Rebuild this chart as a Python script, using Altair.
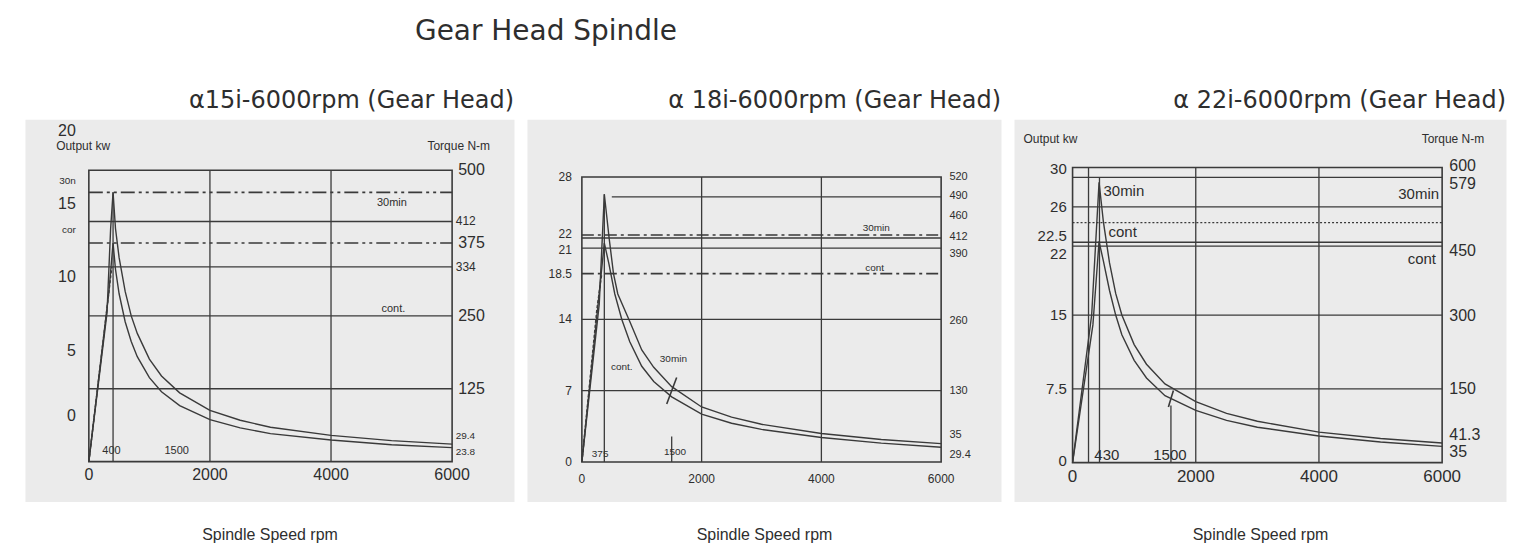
import altair as alt
import pandas as pd

# ---------------- fonts / colours ----------------
LABEL_FONT = "Liberation Sans, Arial, sans-serif"
TITLE_FONT = "DejaVu Sans, Verdana, sans-serif"
AXIS_FONT = "Liberation Sans Narrow, Arial Narrow, Liberation Sans, sans-serif"
INK = "#2e2e2e"
LINE = "#3a3a3a"
PANEL_BG = "#ebebeb"

# ---------------- shared text ----------------
MAIN_TITLE = "Gear Head Spindle"
X_LABEL = "Spindle Speed rpm"
X_TICKS = [0, 2000, 4000, 6000]
X_TICK_TEXT = ["0", "2000", "4000", "6000"]
GRID_RPM = [2000, 4000]

# ---------------- panel 1 : alpha 15i (drawn on the torque scale, N-m) ----------------
P1_TITLE = "α15i-6000rpm (Gear Head)"
P1_TOP = 500
P1_SOLID_H = [412, 334, 250, 125]
P1_DASHDOT_H = [462, 375]
P1_BASE_RPM = [400]
P1_BASE_TOP = [462]
P1_30MIN_RPM = [0, 300, 360, 400, 440, 500, 600, 700, 800, 1000, 1200, 1500, 2000, 2500, 3000, 4000, 5000, 6000]
P1_30MIN_VAL = [0, 255, 400, 462, 400, 350, 292, 250, 220, 176, 147, 118, 88, 71, 59, 45, 36, 30]
P1_CONT_RPM = [0, 330, 400, 440, 500, 600, 700, 800, 1000, 1200, 1500, 2000, 2500, 3000, 4000, 5000, 6000]
P1_CONT_VAL = [0, 290, 375, 330, 288, 240, 206, 180, 144, 120, 96, 72, 58, 48, 37, 29, 24]
P1_RISE_RPM = [0, 380]
P1_RISE_VAL = [0, 334]
P1_LEFT_TEXT = ["20", "15", "10", "5", "0"]
P1_LEFT_POS = [567, 442, 316, 189, 79]
P1_LEFT_SMALL_TEXT = ["30n", "cor"]
P1_LEFT_SMALL_POS = [481, 398]
P1_RIGHT_TEXT = ["500", "375", "250", "125"]
P1_RIGHT_POS = [500, 375, 250, 125]
P1_RIGHT_SMALL_TEXT = ["412", "334"]
P1_RIGHT_SMALL_POS = [412, 334]
P1_RIGHT_TINY_TEXT = ["29.4", "23.8"]
P1_RIGHT_TINY_POS = [43.7, 16.6]
P1_NOTE_TEXT = ["30min", "cont.", "400", "1500"]
P1_NOTE_RPM = [5005, 5030, 374, 1450]
P1_NOTE_VAL = [443, 262, 17.6, 17.6]
P1_HEAD_VAL = 541

# ---------------- panel 2 : alpha 18i (drawn on the output scale, kW) ----------------
P2_TITLE = "α 18i-6000rpm (Gear Head)"
P2_TOP = 28
P2_SOLID_H = [22, 21, 14, 7]
P2_SOLID_H_LATE = [26.05]
P2_SOLID_H_LATE_START = [500]
P2_DASHED_H = [22.3, 18.5]
P2_BASE_RPM = [375, 1500]
P2_BASE_TOP = [26.3, 2.5]
P2_30MIN_RPM = [0, 290, 375, 455, 528, 600, 800, 1000, 1200, 1500, 2000, 2500, 3000, 4000, 5000, 6000]
P2_30MIN_VAL = [0, 15.5, 26.3, 22, 18.5, 16.5, 13.8, 11, 9.3, 7.4, 5.4, 4.4, 3.7, 2.8, 2.2, 1.8]
P2_CONT_RPM = [0, 375, 450, 550, 667, 800, 1000, 1200, 1500, 2000, 2500, 3000, 4000, 5000, 6000]
P2_CONT_VAL = [0, 21.5, 19.5, 16.5, 14, 11.8, 9.4, 7.9, 6.4, 4.7, 3.8, 3.2, 2.4, 1.85, 1.45]
P2_RISE_RPM = [0, 250, 333]
P2_RISE_VAL = [0, 15, 18.5]
P2_MARK = [(1417, 5.7, 1583, 8.3)]
P2_LEFT_TEXT = ["28", "22", "21", "18.5", "14", "7", "0"]
P2_LEFT_POS = [28, 22.4, 20.8, 18.5, 14, 7, 0]
P2_RIGHT_TEXT = ["520", "490", "460", "412", "390", "260", "130", "35", "29.4"]
P2_RIGHT_POS = [28, 26.1, 24.2, 22.06, 20.4, 13.8, 7.0, 2.6, 0.65]
P2_NOTE_TEXT = ["30min", "cont", "cont.", "30min", "375", "1500"]
P2_NOTE_RPM = [4917, 4889, 667, 1528, 305, 1555]
P2_NOTE_VAL = [23.0, 19.1, 9.3, 10.1, 0.8, 1.0]

# ---------------- panel 3 : alpha 22i (drawn on the output scale, kW) ----------------
P3_TITLE = "α 22i-6000rpm (Gear Head)"
P3_TOP = 30
P3_SOLID_H = [29, 26, 22.4, 22, 15, 7.5]
P3_DOTTED_H = [24.4]
P3_BASE_RPM = [259, 437, 1597]
P3_BASE_TOP = [30, 29, 5.8]
P3_30MIN_RPM = [0, 310, 430, 500, 600, 700, 800, 1000, 1200, 1500, 2000, 2500, 3000, 4000, 5000, 6000]
P3_30MIN_VAL = [0, 15, 28.5, 24.5, 20.3, 17.2, 15, 12, 10, 8.0, 6.2, 5.0, 4.2, 3.1, 2.45, 2.0]
P3_CONT_RPM = [0, 330, 430, 500, 600, 700, 800, 1000, 1200, 1500, 2000, 2500, 3000, 4000, 5000, 6000]
P3_CONT_VAL = [0, 14, 22.5, 20.5, 17.5, 15, 13, 10.4, 8.6, 6.8, 5.3, 4.3, 3.6, 2.7, 2.1, 1.65]
P3_MARK = [(1556, 5.65, 1637, 7.33)]
P3_LEFT_TEXT = ["30", "26", "22.5", "22", "15", "7.5", "0"]
P3_LEFT_POS = [29.8, 26, 23.0, 21.2, 15, 7.5, 0.2]
P3_RIGHT_TEXT = ["600", "579", "450", "300", "150", "41.3", "35"]
P3_RIGHT_POS = [30.2, 28.3, 21.5, 14.9, 7.5, 2.8, 1.1]
P3_NOTE_L_TEXT = ["30min", "cont"]
P3_NOTE_L_RPM = [502, 584]
P3_NOTE_L_VAL = [27.6, 23.4]
P3_NOTE_R_TEXT = ["30min", "cont"]
P3_NOTE_R_RPM = [5950, 5900]
P3_NOTE_R_VAL = [27.3, 20.7]
P3_NOTE_C_TEXT = ["430", "1500"]
P3_NOTE_C_RPM = [556, 1581]
P3_NOTE_C_VAL = [0.74, 0.74]
P3_HEAD_VAL = 32.9

X_AXIS = alt.Axis(title=X_LABEL, labels=False, ticks=False, domain=False, grid=False,
                  titleFont=AXIS_FONT, titleFontSize=16, titleFontWeight="normal",
                  titleColor=INK, titlePadding=25)


class P:
    def __init__(self, xdom, ydom):
        self.xs = alt.Scale(domain=xdom, nice=False, zero=False)
        self.ys = alt.Scale(domain=ydom, nice=False, zero=False)

    def x(self, f):
        return alt.X(f, type="quantitative", scale=self.xs, axis=X_AXIS)

    def y(self, f):
        return alt.Y(f, type="quantitative", scale=self.ys, axis=None)

    def frame(self, top):
        df = pd.DataFrame({"x0": [0], "x1": [6000], "y0": [0], "y1": [top]})
        return alt.Chart(df).mark_rect(fillOpacity=0, stroke=LINE, strokeWidth=1.6).encode(
            x=self.x("x0"), x2=alt.X2("x1"), y=self.y("y0"), y2=alt.Y2("y1"))

    def hrules(self, vals, x0=0, x1=6000, dash=None, width=1.3):
        n = len(vals)
        df = pd.DataFrame({"y": vals,
                           "x0": x0 if isinstance(x0, list) else [x0] * n,
                           "x1": [x1] * n})
        kw = dict(color=LINE, strokeWidth=width)
        if dash:
            kw["strokeDash"] = dash
        return alt.Chart(df).mark_rule(**kw).encode(x=self.x("x0"), x2=alt.X2("x1"), y=self.y("y"))

    def vrules(self, xs, y1, y0=0, width=1.3):
        n = len(xs)
        df = pd.DataFrame({"x": xs, "y0": [y0] * n, "y1": y1})
        return alt.Chart(df).mark_rule(color=LINE, strokeWidth=width).encode(
            x=self.x("x"), y=self.y("y0"), y2=alt.Y2("y1"))

    def segs(self, segs, width=1.3):
        df = pd.DataFrame(segs, columns=["x0", "y0", "x1", "y1"])
        return alt.Chart(df).mark_rule(color=LINE, strokeWidth=width).encode(
            x=self.x("x0"), x2=alt.X2("x1"), y=self.y("y0"), y2=alt.Y2("y1"))

    def curve(self, rpm, val, dash=None, width=1.4):
        df = pd.DataFrame({"x": rpm, "y": val, "i": list(range(len(rpm)))})
        kw = dict(color=LINE, strokeWidth=width)
        if dash:
            kw["strokeDash"] = dash
        return alt.Chart(df).mark_line(**kw).encode(x=self.x("x"), y=self.y("y"), order="i:Q")

    def text(self, texts, xs, ys, align="center", size=12, weight="normal", font=LABEL_FONT):
        n = len(texts)
        df = pd.DataFrame({"t": texts,
                           "x": xs if isinstance(xs, list) else [xs] * n,
                           "y": ys if isinstance(ys, list) else [ys] * n})
        return alt.Chart(df).mark_text(align=align, baseline="middle", fontSize=size, font=font,
                                       color=INK, fontWeight=weight).encode(
            x=self.x("x"), y=self.y("y"), text="t:N")


def header(text):
    return alt.TitleParams(text, anchor="end", fontSize=24, font=TITLE_FONT, color=INK,
                           fontWeight="normal", offset=6)


# ---------- panel 1 ----------
p = P([-1055, 7022], [-68.5, 587.3])
panel1 = alt.layer(
    p.vrules(GRID_RPM, [P1_TOP] * len(GRID_RPM)),
    p.vrules(P1_BASE_RPM, P1_BASE_TOP),
    p.hrules(P1_SOLID_H),
    p.hrules(P1_DASHDOT_H, dash=[14, 4, 3, 4, 3, 4], width=1.6),
    p.frame(P1_TOP),
    p.curve(P1_30MIN_RPM, P1_30MIN_VAL),
    p.curve(P1_CONT_RPM, P1_CONT_VAL),
    p.curve(P1_RISE_RPM, P1_RISE_VAL, dash=[3, 2]),
    p.text(P1_LEFT_TEXT, -215, P1_LEFT_POS, align="right", size=16),
    p.text(P1_LEFT_SMALL_TEXT, -215, P1_LEFT_SMALL_POS, align="right", size=10),
    p.text(["Output kw"], -540, P1_HEAD_VAL, align="left", size=12),
    p.text(["Torque N-m"], 6626, P1_HEAD_VAL, align="right", size=12),
    p.text(P1_RIGHT_TEXT, 6100, P1_RIGHT_POS, align="left", size=16),
    p.text(P1_RIGHT_SMALL_TEXT, 6060, P1_RIGHT_SMALL_POS, align="left", size=12),
    p.text(P1_RIGHT_TINY_TEXT, 6060, P1_RIGHT_TINY_POS, align="left", size=10),
    p.text(X_TICK_TEXT, X_TICKS, -23.4, size=16),
    p.text(P1_NOTE_TEXT, P1_NOTE_RPM, P1_NOTE_VAL, size=11),
).properties(width=490, height=383, title=header(P1_TITLE))

# ---------- panel 2 ----------
p = P([-917, 7000], [-3.89, 33.66])
panel2 = alt.layer(
    p.vrules(GRID_RPM, [P2_TOP] * len(GRID_RPM)),
    p.vrules(P2_BASE_RPM, P2_BASE_TOP),
    p.hrules(P2_SOLID_H),
    p.hrules(P2_SOLID_H_LATE, x0=P2_SOLID_H_LATE_START),
    p.hrules(P2_DASHED_H, dash=[12, 4, 3, 4], width=1.6),
    p.frame(P2_TOP),
    p.curve(P2_30MIN_RPM, P2_30MIN_VAL),
    p.curve(P2_CONT_RPM, P2_CONT_VAL),
    p.curve(P2_RISE_RPM, P2_RISE_VAL, dash=[3, 2]),
    p.segs(P2_MARK, width=1.6),
    p.text(P2_LEFT_TEXT, -167, P2_LEFT_POS, align="right", size=12),
    p.text(P2_RIGHT_TEXT, 6138, P2_RIGHT_POS, align="left", size=11),
    p.text(X_TICK_TEXT, X_TICKS, -1.64, size=12),
    p.text(P2_NOTE_TEXT, P2_NOTE_RPM, P2_NOTE_VAL, size=10),
).properties(width=475, height=383, title=header(P2_TITLE))

# ---------- panel 3 ----------
p = P([-951, 7037], [-3.96, 34.9])
panel3 = alt.layer(
    p.vrules(GRID_RPM, [P3_TOP] * len(GRID_RPM)),
    p.vrules(P3_BASE_RPM, P3_BASE_TOP),
    p.hrules(P3_SOLID_H),
    p.hrules(P3_DOTTED_H, dash=[2, 2], width=1.1),
    p.frame(P3_TOP),
    p.curve(P3_30MIN_RPM, P3_30MIN_VAL),
    p.curve(P3_CONT_RPM, P3_CONT_VAL),
    p.segs(P3_MARK, width=1.6),
    p.text(P3_LEFT_TEXT, -95, P3_LEFT_POS, align="right", size=15),
    p.text(["Output kw"], -797, P3_HEAD_VAL, align="left", size=12),
    p.text(["Torque N-m"], 6683, P3_HEAD_VAL, align="right", size=12),
    p.text(P3_RIGHT_TEXT, 6116, P3_RIGHT_POS, align="left", size=16),
    p.text(X_TICK_TEXT, X_TICKS, -1.45, size=17),
    p.text(P3_NOTE_L_TEXT, P3_NOTE_L_RPM, P3_NOTE_L_VAL, align="left", size=15),
    p.text(P3_NOTE_R_TEXT, P3_NOTE_R_RPM, P3_NOTE_R_VAL, align="right", size=15),
    p.text(P3_NOTE_C_TEXT, P3_NOTE_C_RPM, P3_NOTE_C_VAL, size=15),
).properties(width=493, height=383, title=header(P3_TITLE))

chart = alt.hconcat(panel1, panel2, panel3, spacing=11).properties(
    title=alt.TitleParams(MAIN_TITLE, anchor="middle", dx=-220, fontSize=28, font=TITLE_FONT,
                          color=INK, fontWeight="normal", offset=43),
    padding={"left": 16, "top": 9, "right": 5, "bottom": 5},
    background="white",
).configure_view(fill=PANEL_BG, stroke="transparent")

chart.save("out.html", embed_options={"renderer": "svg", "actions": False})
